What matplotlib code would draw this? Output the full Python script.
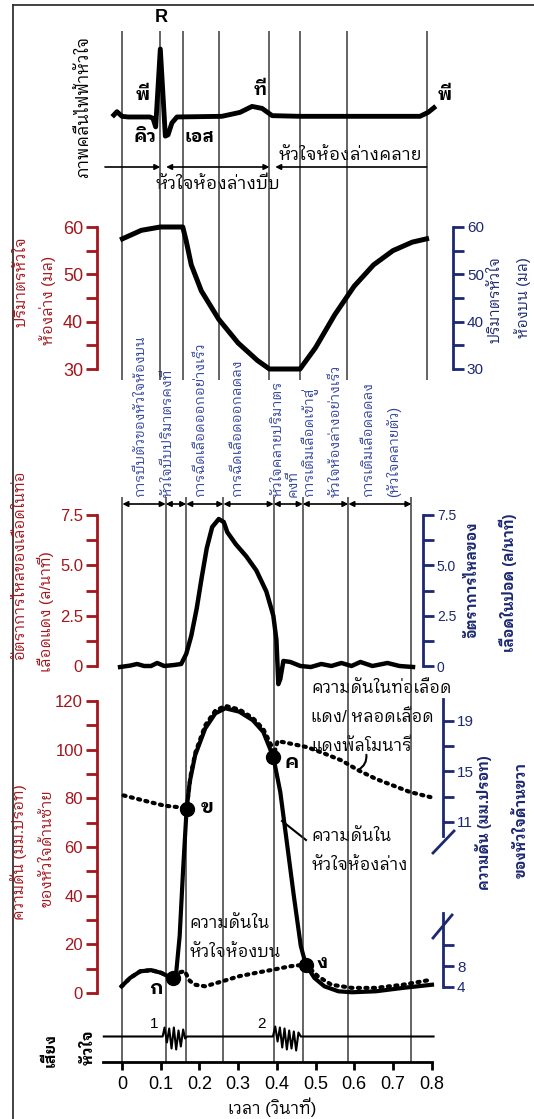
import matplotlib
matplotlib.use("Agg")
import matplotlib.pyplot as plt

plt.rcParams['font.family'] = ['Liberation Sans', 'IBM Plex Sans Thai Looped', 'DejaVu Sans']

RED = '#a3161c'
NAVY = '#1c2870'
PHASE = '#34469c'

# ---- data (time in seconds) ----
top_lines = [0.001, 0.099, 0.157, 0.250, 0.381, 0.460, 0.581, 0.787]
bot_lines = [0.001, 0.113, 0.166, 0.262, 0.392, 0.467, 0.585, 0.748]

ecg_t = [-0.021, -0.013, 0.0, 0.016, 0.072, 0.080, 0.087, 0.099, 0.112, 0.119, 0.129,
         0.142, 0.258, 0.305, 0.336, 0.362, 0.388, 0.460, 0.770, 0.791, 0.806]
ecg_mv = [0.0, 0.05, -0.02, -0.03, -0.03, -0.05, -0.18, 1.0, -0.32, -0.30, -0.12,
          -0.03, -0.02, 0.04, 0.13, 0.10, -0.01, -0.02, -0.02, 0.04, 0.11]

vol_t = [0.001, 0.05, 0.099, 0.157, 0.166, 0.179, 0.205, 0.25, 0.30, 0.35, 0.381,
         0.460, 0.50, 0.55, 0.60, 0.65, 0.70, 0.75, 0.787]
vol_ml = [57.5, 59.3, 60, 60, 57, 52, 46.5, 40.5, 35.5, 31.8, 30,
          30, 34.5, 41.5, 47.5, 52, 55, 56.8, 57.5]

flow_t = [-0.005, 0.021, 0.039, 0.057, 0.075, 0.091, 0.109, 0.135, 0.153, 0.166, 0.179,
          0.193, 0.206, 0.219, 0.233, 0.250, 0.263, 0.272, 0.294, 0.321, 0.347, 0.373,
          0.391, 0.399, 0.404, 0.409, 0.417, 0.435, 0.461, 0.488, 0.515, 0.541, 0.567,
          0.593, 0.616, 0.647, 0.686, 0.717, 0.752]
flow_lpm = [-0.05, 0.02, 0.1, 0.0, 0.0, 0.15, 0.0, 0.05, 0.1, 0.6, 1.5,
            2.85, 4.4, 5.85, 6.9, 7.3, 7.15, 6.65, 6.05, 5.45, 4.75, 3.7,
            2.5, 1.3, -0.9, -0.65, 0.25, 0.2, 0.0, -0.05, 0.1, 0.0, 0.15,
            0.0, 0.2, 0.0, 0.15, 0.0, -0.05]

lv_t = [-0.001, 0.021, 0.047, 0.075, 0.101, 0.118, 0.131, 0.140, 0.149, 0.158, 0.167,
        0.175, 0.189, 0.215, 0.241, 0.267, 0.303, 0.338, 0.365, 0.391, 0.409, 0.426,
        0.444, 0.462, 0.475, 0.497, 0.523, 0.559, 0.594, 0.656, 0.726, 0.801]
lv_p = [2.75, 6.2, 8.9, 9.4, 8.3, 6.9, 6.2, 8.3, 23.4, 51, 75.7,
        86.7, 97.7, 108.7, 114.9, 117, 115.6, 112.1, 107.3, 97, 82.6, 61.9,
        39.9, 19.3, 11.7, 6.2, 2.75, 0.7, 0.3, 0.7, 2.1, 3.4]

ao_t = [0.004, 0.056, 0.109, 0.167, 0.178, 0.19, 0.215, 0.241, 0.267, 0.303, 0.338,
        0.365, 0.385, 0.393, 0.402, 0.42, 0.479, 0.523, 0.567, 0.611, 0.656, 0.70,
        0.744, 0.797]
ao_p = [81.2, 79.1, 77, 76, 90, 99, 110, 116, 118, 116.5, 113,
        108.5, 102, 98, 103.5, 103, 101, 98.4, 95.6, 91.5, 88, 85.3,
        82.6, 80.5]

la_t = [-0.001, 0.021, 0.047, 0.075, 0.101, 0.131, 0.150, 0.162, 0.175, 0.189, 0.215,
        0.259, 0.303, 0.347, 0.391, 0.435, 0.475, 0.506, 0.541, 0.594, 0.656, 0.726, 0.801]
la_p = [2.75, 6.2, 8.9, 9.4, 8.3, 6.2, 8.5, 9.0, 5.0, 3.4, 2.75,
        4.8, 6.9, 8.3, 9.6, 11, 11.7, 6.9, 3.4, 2.1, 2.1, 3.4, 5.5]

pt_t = [0.131, 0.167, 0.391, 0.475]
pt_p = [6.2, 75.7, 97, 11.7]
pt_lbl = ['ก', 'ข', 'ค', 'ง']

snd_t = [-0.047, 0.105, 0.110, 0.116, 0.122, 0.128, 0.134, 0.140, 0.146, 0.152, 0.158,
         0.163, 0.168, 0.390, 0.396, 0.402, 0.408, 0.414, 0.420, 0.426, 0.432, 0.438,
         0.444, 0.450, 0.456, 0.462, 0.805]
snd_v = [0, 0, 0.9, -0.6, 0.8, -1.2, 0.9, -1.3, 0.6, -1.0, 0.7,
         -0.2, 0, 0, 1.0, -0.5, 0.9, -1.1, 0.8, -1.3, 0.6, -1.2,
         0.5, -1.4, 0.4, 0, 0]

time_ticks = [0, 0.1, 0.2, 0.3, 0.4, 0.5, 0.6, 0.7, 0.8]
time_labels = ['0', '0.1', '0.2', '0.3', '0.4', '0.5', '0.6', '0.7', '0.8']

# ---- layout helpers (pixels of the 534x1119 picture) ----
W, H = 534, 1119
X0, XS = 122, 387


def tx(px):
    return (px - X0) / XS


XLIM = (tx(0), tx(W))

fig = plt.figure(figsize=(W / 100, H / 100), dpi=100)


def band(top, bottom):
    ax = fig.add_axes([0, 1 - bottom / H, 1, (bottom - top) / H])
    ax.set_xlim(XLIM)
    ax.patch.set_visible(False)
    for s in ax.spines.values():
        s.set_visible(False)
    ax.set_xticks([])
    ax.set_yticks([])
    return ax


def scale(ax, side, xpx, color, ticks, labels, minor=(), size=12):
    sp = ax.spines[side]
    sp.set_visible(True)
    sp.set_position(('data', tx(xpx)))
    sp.set_color(color)
    sp.set_linewidth(2)
    ax.yaxis.set_ticks_position(side)
    ax.set_yticks(ticks)
    ax.set_yticklabels(labels)
    ax.set_yticks(list(minor), minor=True)
    ax.tick_params(axis='y', which='both', direction='out', length=8, width=2,
                   color=color, labelcolor=color, labelsize=size, pad=2)


def vlabel(x, y, s, color='k', size=11, bold=False):
    bg.text(x, y, s, color=color, fontsize=size, fontweight='bold' if bold else 'normal',
            rotation=90, ha='center', va='center')


# background: pixel coordinates for frame and text
bg = fig.add_axes([0, 0, 1, 1])
bg.set_xlim(0, W)
bg.set_ylim(H, 0)
bg.axis('off')
bg.plot([13, W], [5, 5], color='#333333', lw=1.3)
bg.plot([13, 13], [5, H], color='#333333', lw=1.3)

# time axis over whole figure for grid lines / arrows
gt = fig.add_axes([0, 0, 1, 1])
gt.set_xlim(XLIM)
gt.set_ylim(H, 0)
gt.axis('off')
gt.vlines(top_lines, 31, 380, color='#3a3a3a', lw=1.1)
gt.vlines(bot_lines, 497, 1062, color='#3a3a3a', lw=1.1)


def arrow(ax, t1, t2, y, style):
    ax.annotate('', xy=(t2, y), xytext=(t1, y),
                arrowprops=dict(arrowstyle=style, color='k', lw=1.2,
                                mutation_scale=8, shrinkA=0, shrinkB=0))


# ECG systole / diastole arrows
arrow(gt, tx(105), top_lines[1], 167, '-|>')
arrow(gt, top_lines[1] + 0.015, top_lines[4], 167, '<|-|>')
arrow(gt, top_lines[4] + 0.015, top_lines[7], 167, '<|-')
# phase arrows
for a, b in zip(bot_lines[:-1], bot_lines[1:]):
    arrow(gt, a, b, 504, '<|-|>')

# ---- ECG ----
ax_ecg = band(30, 190)
ax_ecg.set_ylim(-(190 - 115) / 66, (115 - 30) / 66)
ax_ecg.plot(ecg_t, ecg_mv, color='k', lw=3.5, solid_joinstyle='round', clip_on=False)

tb = dict(fontsize=13, fontweight='bold', ha='center', va='center')
bg.text(161, 17, 'R', **tb)
bg.text(143, 95, 'พี', **tb)
bg.text(145, 137, 'คิว', **tb)
bg.text(199, 137, 'เอส', **tb)
bg.text(260, 90, 'ที', **tb)
bg.text(445, 95, 'พี', **tb)
bg.text(350, 155, 'หัวใจห้องล่างคลาย', fontsize=12.5, ha='center', va='center')
bg.text(218, 184, 'หัวใจห้องล่างบีบ', fontsize=12.5, ha='center', va='center')
vlabel(83, 107, 'ภาพคลื่นไฟฟ้าหัวใจ', size=12)

# ---- ventricular volume ----
ax_v = band(227, 369)
ax_v.set_ylim(30, 60)
ax_v.plot(vol_t, vol_ml, color='k', lw=3.6, clip_on=False)
scale(ax_v, 'left', 97, RED, [30, 40, 50, 60], ['30', '40', '50', '60'], [35, 45, 55], 13)
ax_v2 = ax_v.twinx()
ax_v2.set_ylim(30, 60)
ax_v2.patch.set_visible(False)
for s in ax_v2.spines.values():
    s.set_visible(False)
scale(ax_v2, 'right', 453, NAVY, [30, 40, 50, 60], ['30', '40', '50', '60'], [35, 45, 55], 11)

vlabel(22, 282, 'ปริมาตรหัวใจ', RED, 11)
vlabel(48, 300, 'ห้องล่าง (มล)', RED, 11)
vlabel(496, 300, 'ปริมาตรหัวใจ', NAVY, 10.5)
vlabel(523, 298, 'ห้องบน (มล)', NAVY, 10.5)

# ---- phase names ----
phase_x = [140, 168, 200, 237, 278, 293, 309, 336, 368, 394]
phase_txt = ['การบีบตัวของหัวใจห้องบน', 'หัวใจบีบปริมาตรคงที่', 'การฉีดเลือดออกอย่างเร็ว',
             'การฉีดเลือดออกลดลง', 'หัวใจคลายปริมาตร', 'คงที่', 'การเติมเลือดเข้าสู่',
             'หัวใจห้องล่างอย่างเร็ว', 'การเติมเลือดลดลง', '(หัวใจคลายตัว)']
for x, s in zip(phase_x, phase_txt):
    bg.text(x, 497, s, color=PHASE, fontsize=10, rotation=90, ha='center', va='bottom')

# ---- aortic flow ----
ax_f = band(515, 666)
ax_f.set_ylim(0, 7.5)
ax_f.plot(flow_t, flow_lpm, color='k', lw=3.2, solid_joinstyle='round', clip_on=False)
scale(ax_f, 'left', 97, RED, [0, 2.5, 5.0, 7.5], ['0', '2.5', '5.0', '7.5'], [1.25, 3.75, 6.25], 12)
ax_f2 = ax_f.twinx()
ax_f2.set_ylim(0, 7.5)
ax_f2.patch.set_visible(False)
for s in ax_f2.spines.values():
    s.set_visible(False)
scale(ax_f2, 'right', 423, NAVY, [0, 2.5, 5.0, 7.5], ['0', '2.5', '5.0', '7.5'], [1.25, 3.75, 6.25], 10)

vlabel(20, 565, 'อัตราการไหลของเลือดในท่อ', RED, 11)
vlabel(45, 612, 'เลือดแดง (ล/นาที)', RED, 11)
vlabel(472, 580, 'อัตราการไหลของ', NAVY, 10.5, True)
vlabel(508, 583, 'เลือดในปอด (ล/นาที)', NAVY, 10.5, True)

# ---- pressures ----
ax_p = band(701, 993)
ax_p.set_ylim(0, 120)
ax_p.plot(lv_t, lv_p, color='k', lw=3.0, solid_joinstyle='round', clip_on=False)
dots = dict(color='k', lw=3.0, linestyle=(0, (0.5, 1.3)), dash_capstyle='round', clip_on=False)
ax_p.plot(ao_t, ao_p, **dots)
ax_p.plot(la_t, la_p, **dots)
ax_p.plot(pt_t, pt_p, 'o', color='k', ms=10, clip_on=False)
scale(ax_p, 'left', 97, RED, list(range(0, 121, 20)), [str(v) for v in range(0, 121, 20)],
      list(range(10, 120, 20)), 12)

lbl_off = [(-12, -8), (15, 0), (13, -5), (12, 1)]
for t, p, s, (dx, dy) in zip(pt_t, pt_p, pt_lbl, lbl_off):
    ax_p.annotate(s, (t, p), xytext=(dx, dy), textcoords='offset points', fontsize=14,
                  fontweight='bold', ha='center', va='center')

# right-hand pressure scale, broken in two parts
ax_pu = band(699, 836)
ax_pu.set_ylim(19 - (836 - 721) / 12.6, 19 + (721 - 699) / 12.6)
scale(ax_pu, 'right', 443, NAVY, [11, 15, 19], ['11', '15', '19'], [13, 17], 11)
ax_pl = band(913, 987)
ax_pl.set_ylim(4, 4 + (987 - 913) / 5.25)
scale(ax_pl, 'right', 443, NAVY, [4, 8], ['4', '8'], [12], 11)
bg.plot([454, 433], [831, 853], color=NAVY, lw=2)
bg.plot([433, 452], [938, 915], color=NAVY, lw=2)

vlabel(19, 852, 'ความดัน (มม.ปรอท)', RED, 11)
vlabel(48, 848, 'ของหัวใจด้านซ้าย', RED, 11)
vlabel(484, 823, 'ความดัน (มม.ปรอท)', NAVY, 10.5, True)
vlabel(521, 820, 'ของหัวใจด้านขวา', NAVY, 10.5, True)

tn = dict(fontsize=12, ha='left', va='center')
bg.text(311, 688, 'ความดันในท่อเลือด', **tn)
bg.text(311, 717, 'แดง/ หลอดเลือด', **tn)
bg.text(311, 746, 'แดงพัลโมนารี', **tn)
bg.annotate('', xy=(356, 771), xytext=(366, 752),
            arrowprops=dict(arrowstyle='-', color='k', lw=1.5, connectionstyle='arc3,rad=-0.4'))
bg.text(311, 836, 'ความดันใน', **tn)
bg.text(311, 865, 'หัวใจห้องล่าง', **tn)
bg.plot([306, 282], [840, 821], color='k', lw=1.5)
bg.text(189, 923, 'ความดันใน', **tn)
bg.text(189, 952, 'หัวใจห้องบน', **tn)

# ---- heart sounds + time axis ----
ax_s = band(1000, 1062)
ax_s.set_ylim(-(1062 - 1036.5) / 10, (1036.5 - 1000) / 10)
ax_s.plot(snd_t, snd_v, color='k', lw=1.5, clip_on=False)
sb = ax_s.spines['bottom']
sb.set_visible(True)
sb.set_linewidth(2)
sb.set_bounds(tx(103), tx(432))
ax_s.set_xticks(time_ticks)
ax_s.set_xticklabels(time_labels)
ax_s.tick_params(axis='x', direction='out', length=6, width=2, labelsize=13, pad=4)
bg.text(272, 1107, 'เวลา (วินาที)', fontsize=12, ha='center', va='center')
bg.text(154, 1024, '1', fontsize=11, ha='center', va='center')
bg.text(261, 1024, '2', fontsize=11, ha='center', va='center')
vlabel(50, 1050, 'เสียง', size=11, bold=True)
vlabel(89, 1047, 'หัวใจ', size=11, bold=True)

fig.savefig('out.png', dpi=100)
